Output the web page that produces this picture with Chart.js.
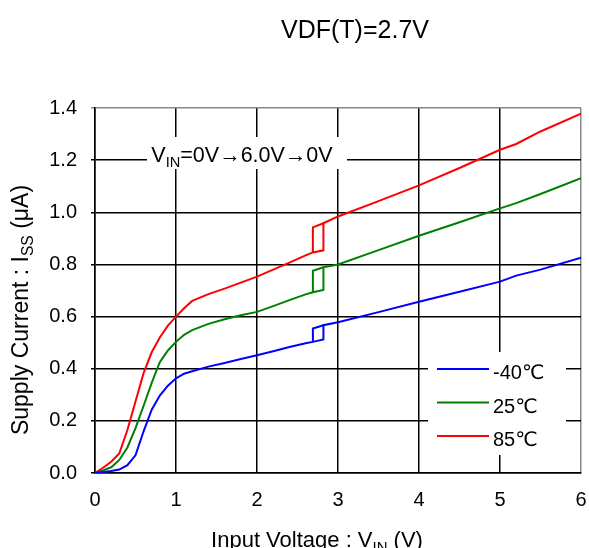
<!DOCTYPE html>
<html>
<head>
<meta charset="utf-8">
<script src="https://cdn.jsdelivr.net/npm/chart.js@4.4.1/dist/chart.umd.min.js"></script>
<style>
  body { margin: 0; background: #fff; }
</style>
</head>
<body>
<canvas id="grafico" width="589" height="548"></canvas>
<script>
// VIN sweep 0V -> 6.0V (V); 2.82 appears twice for the jump up
const vin = [0, 0.1, 0.2, 0.3, 0.4, 0.5, 0.6, 0.7, 0.8, 0.9, 1.0, 1.1, 1.2, 1.4, 1.6, 1.8, 2.0, 2.2, 2.4, 2.6, 2.69, 2.82, 2.82, 3.0, 3.5, 4.0, 4.5, 5.0, 5.2, 5.5, 6.0];
// Supply current ISS (uA)
const issM40 = [0, 0.004, 0.008, 0.013, 0.03, 0.068, 0.16, 0.243, 0.297, 0.335, 0.363, 0.381, 0.39, 0.408, 0.422, 0.437, 0.452, 0.467, 0.483, 0.498, 0.503, 0.512, 0.567, 0.578, 0.617, 0.657, 0.695, 0.734, 0.757, 0.78, 0.826];
const iss25 = [0, 0.01, 0.022, 0.05, 0.098, 0.172, 0.258, 0.346, 0.425, 0.47, 0.503, 0.53, 0.548, 0.572, 0.59, 0.605, 0.618, 0.64, 0.663, 0.685, 0.693, 0.702, 0.789, 0.80, 0.855, 0.91, 0.962, 1.015, 1.035, 1.07, 1.131];
const iss85 = [0, 0.02, 0.043, 0.075, 0.165, 0.274, 0.383, 0.463, 0.52, 0.565, 0.6, 0.632, 0.66, 0.686, 0.707, 0.73, 0.753, 0.78, 0.807, 0.835, 0.846, 0.854, 0.958, 0.984, 1.043, 1.103, 1.17, 1.24, 1.262, 1.31, 1.378];

// way back 6.0V -> 0V: drops to the lower branch at 2.69V
const vinBack = [2.82, 2.69, 2.69];
const backM40 = [0.567, 0.554, 0.503];
const back25 = [0.789, 0.776, 0.693];
const back85 = [0.958, 0.942, 0.846];

const temps = ['-40℃', '25℃', '85℃'];
const cores = ['#0000ff', '#008000', '#ff0000'];
const xTicks = [0, 1, 2, 3, 4, 5, 6];
const yTicks = [0, 0.2, 0.4, 0.6, 0.8, 1.0, 1.2, 1.4];

const fonte = "'Liberation Sans', Arial, 'DejaVu Sans', sans-serif";

function pontos(xs, ys) {
  return xs.map((x, i) => ({ x: x, y: ys[i] }));
}

const curvas = [issM40, iss25, iss85];
const voltas = [backM40, back25, back85];
const datasets = [];
curvas.forEach((c, i) => {
  datasets.push({ label: temps[i], data: pontos(vin, c), borderColor: cores[i] });
});
voltas.forEach((c, i) => {
  datasets.push({ label: temps[i] + ' back', data: pontos(vinBack, c), borderColor: cores[i] });
});

// text with a subscript part, e.g. V + IN
function textoSub(ctx, partes, x, y, tam) {
  let w = 0;
  partes.forEach(p => {
    ctx.font = (p.sub ? tam * 0.68 : tam) + 'px ' + fonte;
    w += ctx.measureText(p.t).width;
  });
  let cx = x - w / 2;
  partes.forEach(p => {
    ctx.font = (p.sub ? tam * 0.68 : tam) + 'px ' + fonte;
    ctx.fillText(p.t, cx, p.sub ? y + tam * 0.22 : y);
    cx += ctx.measureText(p.t).width;
  });
  return w;
}

const extras = {
  id: 'extras',
  afterDraw(chart) {
    const ctx = chart.ctx;
    ctx.save();
    ctx.fillStyle = '#000';
    ctx.textBaseline = 'alphabetic';
    ctx.textAlign = 'left';

    // title
    textoSub(ctx, [{ t: 'VDF(T)=2.7V' }], 355, 38, 25);

    // annotation box
    ctx.fillStyle = '#fff';
    ctx.fillRect(147, 137, 200, 32);
    ctx.fillStyle = '#000';
    textoSub(ctx, [{ t: 'V' }, { t: 'IN', sub: true }, { t: '=0V→6.0V→0V' }], 242, 162, 21.5);

    // legend
    ctx.fillStyle = '#fff';
    ctx.fillRect(428, 352, 138, 103);
    temps.forEach((t, i) => {
      const y = 369 + i * 33.5;
      ctx.strokeStyle = cores[i];
      ctx.lineWidth = 2;
      ctx.beginPath();
      ctx.moveTo(437, y);
      ctx.lineTo(489, y);
      ctx.stroke();
      ctx.fillStyle = '#000';
      ctx.font = '20px ' + fonte;
      ctx.fillText(t, 493, y + 10);
    });

    // axis titles
    textoSub(ctx, [{ t: 'Input Voltage : V' }, { t: 'IN', sub: true }, { t: ' (V)' }], 317, 547, 22);
    ctx.translate(28, 310);
    ctx.rotate(-Math.PI / 2);
    textoSub(ctx, [{ t: 'Supply Current : I' }, { t: 'SS', sub: true }, { t: ' (μA)' }], 0, 0, 23);
    ctx.restore();
  }
};

const quase = (a, b) => Math.abs(a - b) < 1e-6;

new Chart(document.getElementById('grafico'), {
  type: 'scatter',
  data: { datasets: datasets },
  options: {
    responsive: false,
    animation: false,
    devicePixelRatio: 1,
    showLine: true,
    layout: { padding: { top: 108, right: 8, left: 0, bottom: 0 } },
    elements: {
      point: { radius: 0 },
      line: { borderWidth: 2, tension: 0, fill: false }
    },
    plugins: {
      legend: { display: false },
      tooltip: { enabled: false }
    },
    scales: {
      x: {
        type: 'linear',
        min: 0,
        max: 6,
        afterBuildTicks: s => { s.ticks = xTicks.map(v => ({ value: v })); },
        afterFit: s => { s.height = 75; s.paddingLeft = 0; s.paddingRight = 0; },
        grid: {
          color: c => (c.tick && quase(c.tick.value, 6)) ? '#888' : '#000',
          lineWidth: 1.5,
          drawTicks: false
        },
        border: { color: '#000', width: 1.5 },
        ticks: {
          padding: 15,
          color: '#000',
          font: { family: fonte, size: 20 },
          callback: v => String(v)
        }
      },
      y: {
        type: 'linear',
        min: 0,
        max: 1.4,
        afterBuildTicks: s => { s.ticks = yTicks.map(v => ({ value: v })); },
        afterFit: s => { s.width = 95; s.paddingTop = 0; s.paddingBottom = 0; },
        grid: {
          color: c => (c.tick && quase(c.tick.value, 1.4)) ? '#888' : '#000',
          lineWidth: 1.5,
          tickLength: 4
        },
        border: { color: '#000', width: 1.5 },
        ticks: {
          padding: 14,
          color: '#000',
          font: { family: fonte, size: 20 },
          callback: v => v.toFixed(1)
        }
      }
    }
  },
  plugins: [extras]
});
</script>
</body>
</html>
